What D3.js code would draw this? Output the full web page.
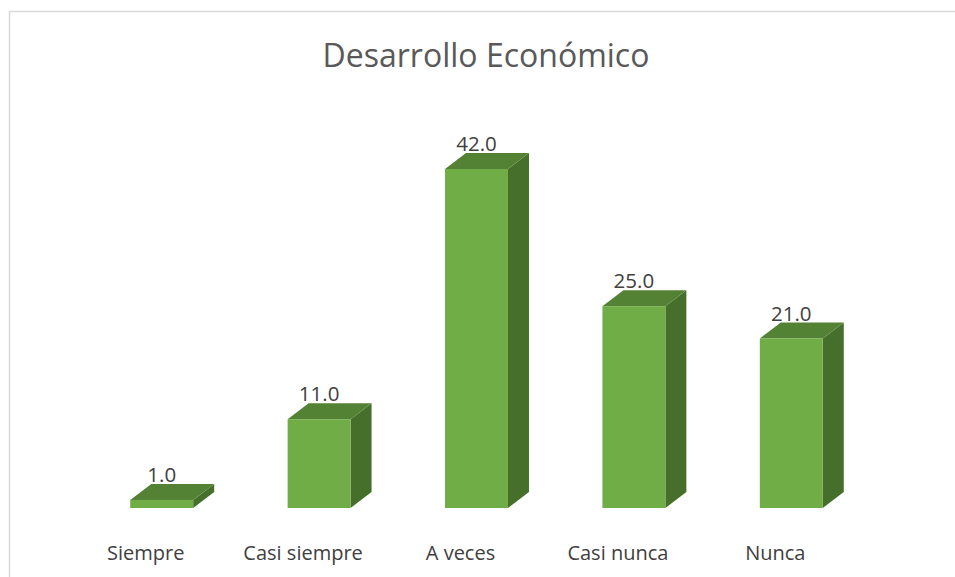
<!DOCTYPE html>
<html>
<head>
<meta charset="utf-8">
<script src="https://cdn.jsdelivr.net/npm/d3@7"></script>
<style>
  body { margin: 0; background: #fff; }
  text { font-family: "Open Sans", "Liberation Sans", sans-serif; }
</style>
</head>
<body>
<div id="chart"></div>
<script>
const categories = ["Siempre", "Casi siempre", "A veces", "Casi nunca", "Nunca"];
const values = [1, 11, 42, 25, 21];
const chartTitle = "Desarrollo Económico";

const width = 955;
const height = 577;
const baseY = 508;
const depthX = 21; // 3D depth offset
const depthY = 16;

const svg = d3.select("#chart")
    .append("svg")
    .attr("width", width)
    .attr("height", height);

// chart area border
svg.append("rect")
    .attr("x", 9.5)
    .attr("y", 11.5)
    .attr("width", 980)
    .attr("height", 600)
    .attr("fill", "none")
    .attr("stroke", "#d9d9d9")
    .attr("stroke-width", 1.5);

svg.append("text")
    .attr("x", 486)
    .attr("y", 67)
    .attr("text-anchor", "middle")
    .attr("font-size", 32)
    .attr("fill", "#595959")
    .text(chartTitle);

const xScale = d3.scaleBand()
    .domain(categories)
    .range([83, 870])
    .paddingInner(0.6)
    .paddingOuter(0.3);

const yScale = d3.scaleLinear()
    .domain([0, 42])
    .range([baseY, 169]);

const bars = svg.selectAll("g.bar")
    .data(categories.map((c, i) => ({ cat: c, val: values[i] })))
    .enter()
    .append("g")
    .attr("class", "bar");

// side face
bars.append("path")
    .attr("fill", "#476f2c")
    .attr("d", d => {
        const x1 = xScale(d.cat) + xScale.bandwidth();
        const y = yScale(d.val);
        return `M${x1},${baseY}L${x1 + depthX},${baseY - depthY}L${x1 + depthX},${y - depthY}L${x1},${y}Z`;
    });

// top face
bars.append("path")
    .attr("fill", "#548235")
    .attr("d", d => {
        const x0 = xScale(d.cat);
        const x1 = x0 + xScale.bandwidth();
        const y = yScale(d.val);
        return `M${x0},${y}L${x0 + depthX},${y - depthY}L${x1 + depthX},${y - depthY}L${x1},${y}Z`;
    });

// front face
bars.append("rect")
    .attr("fill", "#70ad47")
    .attr("x", d => xScale(d.cat))
    .attr("y", d => yScale(d.val))
    .attr("width", xScale.bandwidth())
    .attr("height", d => baseY - yScale(d.val));

// value labels
bars.append("text")
    .attr("x", d => xScale(d.cat) + xScale.bandwidth() / 2)
    .attr("y", d => yScale(d.val) - depthY - 2)
    .attr("text-anchor", "middle")
    .attr("font-size", 20.5)
    .attr("fill", "#404040")
    .text(d => d3.format(".1f")(d.val));

// category labels
svg.selectAll("text.cat")
    .data(categories)
    .enter()
    .append("text")
    .attr("class", "cat")
    .attr("x", d => xScale(d) + xScale.bandwidth() / 2 - 16)
    .attr("y", 560)
    .attr("text-anchor", "middle")
    .attr("font-size", 20)
    .attr("fill", "#404040")
    .text(d => d);
</script>
</body>
</html>
